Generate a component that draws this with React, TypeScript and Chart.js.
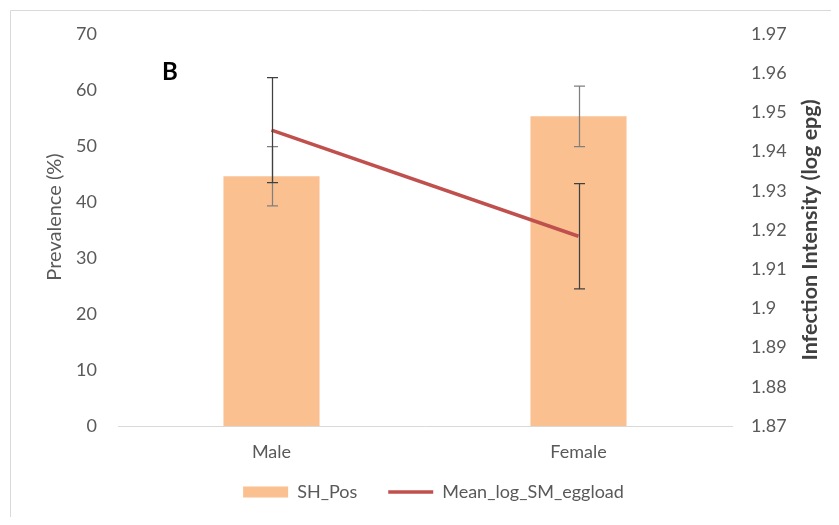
import React, { useEffect, useRef } from "react";
import { Chart, registerables } from "chart.js";

Chart.register(...registerables);

// ---- data ----
const categories = ["Male", "Female"];
const prevalenceLabel = "SH_Pos";
const prevalence = [44.6, 55.3];
const prevalenceErr = [5.3, 5.4];
const eggloadLabel = "Mean_log_SM_eggload";
const eggload = [1.9455, 1.9184];
const eggloadErr = [0.0134, 0.0134];
const leftTicks = [0, 10, 20, 30, 40, 50, 60, 70];
const rightTicks = [1.87, 1.88, 1.89, 1.9, 1.91, 1.92, 1.93, 1.94, 1.95, 1.96, 1.97];
const leftTitle = "Prevalence (%)";
const rightTitle = "Infection Intensity (log epg)";
const panelLabel = "B";

const FONT = "Lato, 'Open Sans', sans-serif";
const GREY = "#595959";

const errorBarPlugin = {
  id: "errorBars",
  afterDatasetsDraw(chart: any) {
    const ctx = chart.ctx;
    const specs = [
      { di: 0, errs: prevalenceErr, scale: "y", color: "#7f7f7f" },
      { di: 1, errs: eggloadErr, scale: "y1", color: "#404040" },
    ];
    ctx.save();
    for (const s of specs) {
      const meta = chart.getDatasetMeta(s.di);
      const data = chart.data.datasets[s.di].data as number[];
      const sc = chart.scales[s.scale];
      ctx.strokeStyle = s.color;
      ctx.lineWidth = 1.25;
      meta.data.forEach((el: any, i: number) => {
        const x = Math.round(el.x) + 0.5;
        const yTop = sc.getPixelForValue(data[i] + s.errs[i]);
        const yBot = sc.getPixelForValue(data[i] - s.errs[i]);
        ctx.beginPath();
        ctx.moveTo(x, yTop);
        ctx.lineTo(x, yBot);
        ctx.moveTo(x - 5.5, yTop);
        ctx.lineTo(x + 5.5, yTop);
        ctx.moveTo(x - 5.5, yBot);
        ctx.lineTo(x + 5.5, yBot);
        ctx.stroke();
      });
    }
    ctx.restore();
  },
};

// place the legend box where the reference puts it
const legendPlacePlugin = {
  id: "legendPlace",
  afterLayout(chart: any) {
    const lg = chart.legend;
    if (!lg) return;
    lg.left = 28;
    lg.right = chart.width;
    lg.width = lg.right - lg.left;
    lg.top = 444;
    lg.bottom = 505;
    lg.height = lg.bottom - lg.top;
  },
};

const decorPlugin = {
  id: "decor",
  afterDraw(chart: any) {
    const ctx = chart.ctx;
    const area = chart.chartArea;
    ctx.save();
    // outer frame (left/top edges visible)
    ctx.strokeStyle = "#d9d9d9";
    ctx.lineWidth = 1;
    ctx.beginPath();
    ctx.moveTo(2.5, chart.height);
    ctx.lineTo(2.5, 2.5);
    ctx.lineTo(chart.width, 2.5);
    ctx.stroke();

    // panel label
    ctx.fillStyle = "#000000";
    ctx.font = `bold 24px ${FONT}`;
    ctx.textAlign = "left";
    ctx.textBaseline = "middle";
    ctx.fillText(panelLabel, 154, 64);

    // left title
    ctx.fillStyle = GREY;
    ctx.font = `20px ${FONT}`;
    ctx.textAlign = "center";
    ctx.textBaseline = "middle";
    ctx.translate(47, 209);
    ctx.rotate(-Math.PI / 2);
    ctx.fillText(leftTitle, 0, 0);
    ctx.setTransform(1, 0, 0, 1, 0, 0);

    // right title
    ctx.fillStyle = "#404040";
    ctx.font = `bold 21.5px ${FONT}`;
    ctx.translate(802, (area.top + area.bottom) / 2);
    ctx.rotate(-Math.PI / 2);
    ctx.fillText(rightTitle, 0, 0);
    ctx.restore();
  },
};

export default function App() {
  const ref = useRef<HTMLCanvasElement | null>(null);

  useEffect(() => {
    if (!ref.current) return;
    const chart = new Chart(ref.current, {
      type: "bar",
      data: {
        labels: categories,
        datasets: [
          {
            type: "bar",
            label: prevalenceLabel,
            data: prevalence,
            backgroundColor: "#FAC090",
            borderWidth: 0,
            yAxisID: "y",
            barPercentage: 0.313,
            categoryPercentage: 1,
            order: 2,
          } as any,
          {
            type: "line",
            label: eggloadLabel,
            data: eggload,
            borderColor: "#C0504D",
            backgroundColor: "#C0504D",
            borderWidth: 3.5,
            pointRadius: 0,
            pointStyle: "line",
            yAxisID: "y1",
            order: 1,
          } as any,
        ],
      },
      options: {
        responsive: false,
        animation: false,
        layout: { padding: { top: 26, left: 0, right: 0, bottom: 0 } },
        plugins: {
          legend: {
            position: "bottom",
            maxHeight: 36,
            labels: {
              usePointStyle: true,
              pointStyleWidth: 45,
              boxHeight: 11,
              padding: 31,
              color: GREY,
              font: { family: FONT, size: 18 },
              generateLabels: (ch: any) =>
                ch.data.datasets.map((d: any, i: number) => ({
                  text: d.label,
                  fillStyle: i === 0 ? d.backgroundColor : d.borderColor,
                  strokeStyle: i === 0 ? d.backgroundColor : d.borderColor,
                  lineWidth: i === 0 ? 0 : 3.5,
                  pointStyle: i === 0 ? "rect" : "line",
                  hidden: false,
                  datasetIndex: i,
                  fontColor: GREY,
                })),
            },
          },
          tooltip: { enabled: false },
        },
        scales: {
          x: {
            grid: { display: false, drawTicks: false },
            border: { display: true, color: "#d9d9d9", width: 1 },
            ticks: { color: GREY, font: { family: FONT, size: 18 }, padding: 15 },
            afterFit: (s: any) => {
              s.height = 55;
              s.paddingLeft = 0;
              s.paddingRight = 0;
            },
          },
          y: {
            position: "left",
            min: 0,
            max: 70,
            grid: { display: false, drawTicks: false },
            border: { display: false },
            ticks: { color: GREY, font: { family: FONT, size: 18 }, padding: 21 },
            afterBuildTicks: (s: any) => {
              s.ticks = leftTicks.map((v) => ({ value: v }));
            },
            afterFit: (s: any) => {
              s.width = 110;
              s.paddingTop = 0;
              s.paddingBottom = 0;
            },
          },
          y1: {
            position: "right",
            min: 1.87,
            max: 1.97,
            grid: { display: false, drawTicks: false },
            border: { display: false },
            ticks: {
              color: GREY,
              font: { family: FONT, size: 18 },
              padding: 19,
              callback: (v: any) => String(Number(Number(v).toFixed(2))),
            },
            afterBuildTicks: (s: any) => {
              s.ticks = rightTicks.map((v) => ({ value: v }));
            },
            afterFit: (s: any) => {
              s.width = 99;
              s.paddingTop = 0;
              s.paddingBottom = 0;
            },
          },
        },
      } as any,
      plugins: [errorBarPlugin, legendPlacePlugin, decorPlugin],
    });
    return () => chart.destroy();
  }, []);

  return (
    <div style={{ width: 823, height: 509, position: "relative" }}>
      <canvas ref={ref} width={823} height={509} style={{ display: "block" }} />
    </div>
  );
}
